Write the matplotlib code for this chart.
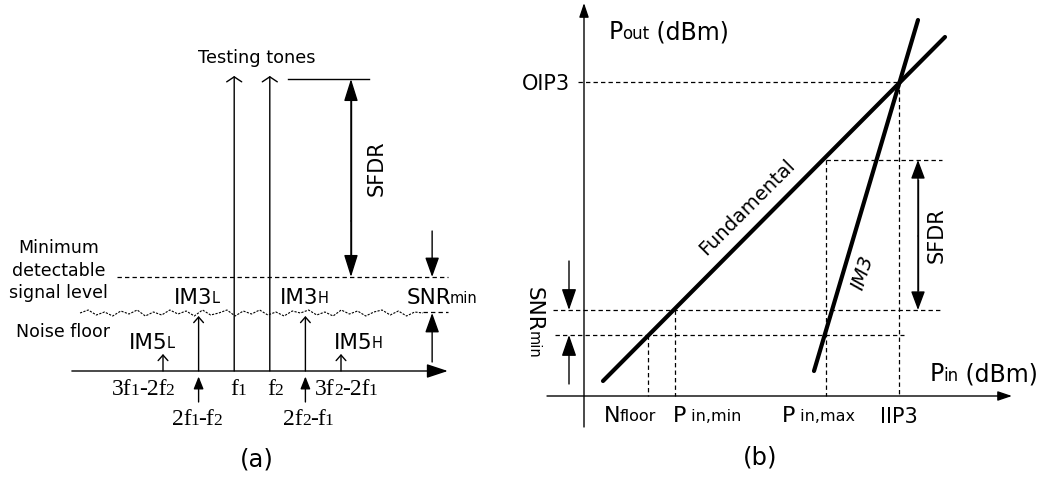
import matplotlib
matplotlib.use("Agg")
import matplotlib.pyplot as plt
import numpy as np

SANS = "DejaVu Sans"
SERIF = "Liberation Serif"

# ---- (a) spectrum: frequencies in units of tone spacing, levels in dB above axis
im_freqs = [0, 1, 4, 5]            # 3f1-2f2, 2f1-f2, 2f2-f1, 3f2-2f1
im_levels = [1.7, 5.5, 5.5, 1.7]
tone_freqs = [2, 3]                # f1, f2
tone_level = 29.5
sfdr_top = 29.2
min_detect = 9.4
noise_floor = 5.8
# ripple of the noise floor trace
noise_ripple = [0.0, 0.3, -0.2, 0.1, -0.3, 0.2, -0.1, 0.3, -0.3, 0.1,
                -0.2, 0.3, -0.1, 0.2, -0.3, 0.3, -0.2, 0.0, 0.3, -0.3,
                0.2, -0.1, 0.3, -0.2, 0.1, -0.3, 0.2, 0.0, 0.3, -0.2,
                0.1, -0.3, 0.3, -0.1, 0.2, -0.3, 0.1, 0.3, -0.2, 0.2,
                -0.3, 0.1, 0.0]

# ---- (b) power sweep, dBm (relative)
pin_marks = [6.4, 9.1, 24.2, 31.5]     # Nfloor, Pin,min, Pin,max, IIP3
oip3 = 31.4
snr_hi, snr_lo = 8.6, 6.1
sfdr_level = 23.6
fund_pin = [1.9, 36.1]
fund_pout = [1.5, 35.9]
im3_pin = [23.0, 33.4]
im3_pout = [2.5, 37.6]

fig = plt.figure(figsize=(10.47, 4.85), dpi=100)
axL = fig.add_axes([0, 0, 1, 1])
axL.set_xlim(-163 / 35.6, (1047 - 163) / 35.6)
axL.set_ylim(-(485 - 372) / 10, 372 / 10)
axR = fig.add_axes([0, 0, 1, 1])
axR.set_xlim(-58.4, 46.3)
axR.set_ylim(-8.8, 39.7)
for ax in (axL, axR):
    ax.axis("off")
    ax.patch.set_visible(False)


def arrow(ax, x0, y0, x1, y1, style="-|>", hl=1.2, hw=0.4, lw=1.0):
    ax.annotate("", xy=(x1, y1), xytext=(x0, y0),
                arrowprops=dict(arrowstyle=f"{style},head_length={hl},head_width={hw}",
                                mutation_scale=10, lw=lw, color="k",
                                shrinkA=0, shrinkB=0))


def rich(ax, x, y, parts, family=SANS, rot=0, desc=0.22, gap=-0.6):
    # text run with small letters sitting on the baseline
    s0, f0 = parts[0]
    prev = ax.text(x, y, s0, fontsize=f0, family=family, ha="left", va="baseline",
                   rotation=rot, rotation_mode="anchor")
    for s, f in parts[1:]:
        if rot == 0:
            xy, off = (1, 0), (gap, desc * f0)
        else:
            xy, off = (0, 0), (desc * f0, -gap)
        prev = ax.annotate(s, xy=xy, xycoords=prev, xytext=off, textcoords="offset points",
                           fontsize=f, family=family, ha="left", va="baseline",
                           rotation=rot, rotation_mode="anchor")
        f0 = f
    return prev


dash = dict(color="k", lw=0.9, linestyle=(0, (3.5, 2.5)))

# ================= (a) =================
arrow(axL, -2.56, 0, 8.0, 0, hl=1.3, hw=0.43)
for f in tone_freqs:
    arrow(axL, f, 0, f, tone_level, style="->", hl=0.36, hw=0.54)
for f, lv in zip(im_freqs, im_levels):
    arrow(axL, f, 0, f, lv, style="->", hl=0.4, hw=0.35)
# small markers under the IM3 products
for f in (1, 4):
    arrow(axL, f, -3.1, f, -0.55, hl=0.75, hw=0.3)

axL.plot([3.51, 5.79], [sfdr_top, sfdr_top], color="k", lw=1.0)
arrow(axL, 5.28, 15, 5.28, sfdr_top, hl=1.37, hw=0.43)
arrow(axL, 5.28, 15, 5.28, min_detect, hl=1.37, hw=0.43)
axL.plot([5.28, 5.28], [sfdr_top - 2, min_detect + 2], color="k", lw=1.0)

axL.plot([-1.29, 8.0], [min_detect, min_detect], **dash)
nx = np.linspace(-2.33, 7.30, len(noise_ripple))
axL.plot(nx, noise_floor + np.array(noise_ripple), color="k", lw=0.8,
         linestyle=(0, (2, 1.2)))
axL.plot([7.30, 8.0], [noise_floor + 0.1, noise_floor + 0.1], **dash)

arrow(axL, 7.56, 14.0, 7.56, min_detect, hl=1.2, hw=0.43)
arrow(axL, 7.56, 0.9, 7.56, noise_floor, hl=1.2, hw=0.43)

axL.text(2.64, 31.4, "Testing tones", fontsize=12.8, family=SANS, ha="center", va="center")
axL.text(6.01, 20.4, "SFDR", fontsize=15, family=SANS, rotation=90, ha="center", va="center")
for s, yb in (("Minimum", 11.9), ("detectable", 9.6), ("signal level", 7.4)):
    axL.text(-2.94, yb, s, fontsize=12.5, family=SANS, ha="center", va="baseline")
axL.text(-2.81, 3.5, "Noise floor", fontsize=12.5, family=SANS, ha="center", va="baseline")

rich(axL, 0.31, 6.8, [("IM3", 15.5), ("L", 10.5)])
rich(axL, 3.29, 6.8, [("IM3", 15.5), ("H", 10.5)])
rich(axL, 6.83, 6.8, [("SNR", 15.5), ("min", 10.5)])
rich(axL, -0.955, 2.3, [("IM5", 15.5), ("L", 10.5)])
rich(axL, 4.80, 2.3, [("IM5", 15.5), ("H", 10.5)])

rich(axL, -1.43, -2.3, [("3f", 17), ("1", 12.5), ("-2f", 17), ("2", 12.5)], family=SERIF)
rich(axL, 1.88, -2.3, [("f", 17), ("1", 12.5)], family=SERIF)
rich(axL, 2.92, -2.3, [("f", 17), ("2", 12.5)], family=SERIF)
rich(axL, 4.27, -2.3, [("3f", 17), ("2", 12.5), ("-2f", 17), ("1", 12.5)], family=SERIF)
rich(axL, 0.25, -5.3, [("2f", 17), ("1", 12.5), ("-f", 17), ("2", 12.5)], family=SERIF)
rich(axL, 3.37, -5.3, [("2f", 17), ("2", 12.5), ("-f", 17), ("1", 12.5)], family=SERIF)

axL.text(2.64, -8.8, "(a)", fontsize=17.5, family=SANS, ha="center", va="center")

# ================= (b) =================
arrow(axR, 0, -3.1, 0, 39.3, hl=0.86, hw=0.29)
arrow(axR, -3.7, 0, 42.8, 0, hl=0.86, hw=0.29)

axR.plot(fund_pin, fund_pout, color="k", lw=3.0, solid_capstyle="round")
axR.plot(im3_pin, im3_pout, color="k", lw=3.0, solid_capstyle="round")

nfl, pmin, pmax, iip3 = pin_marks
axR.plot([-0.6, iip3], [oip3, oip3], **dash)
axR.plot([iip3, iip3], [oip3, 0], **dash)
axR.plot([pmax, 35.8], [sfdr_level, sfdr_level], **dash)
axR.plot([pmax, pmax], [sfdr_level, 0], **dash)
axR.plot([-3.1, 35.7], [snr_hi, snr_hi], **dash)
axR.plot([-2.9, 32.0], [snr_lo, snr_lo], **dash)
axR.plot([pmin, pmin], [snr_hi, 0], **dash)
axR.plot([nfl, nfl], [snr_lo, 0], **dash)

arrow(axR, -1.5, 13.5, -1.5, snr_hi, hl=1.3, hw=0.45)
arrow(axR, -1.5, 1.2, -1.5, snr_lo, hl=1.3, hw=0.45)
arrow(axR, 33.4, 16, 33.4, sfdr_level, hl=1.15, hw=0.43)
arrow(axR, 33.4, 16, 33.4, snr_hi, hl=1.15, hw=0.43)
axR.plot([33.4, 33.4], [sfdr_level - 2, snr_hi + 2], color="k", lw=1.0)

rich(axR, 2.5, 35.8, [("P", 17), ("out", 12), (" (dBm)", 17)])
rich(axR, 34.6, 1.6, [("P", 17), ("in", 12), (" (dBm)", 17)])
axR.text(-1.4, 30.7, "OIP3", fontsize=15, family=SANS, ha="right", va="baseline")
axR.text(iip3, -2.6, "IIP3", fontsize=15, family=SANS, ha="center", va="baseline")
rich(axR, 2.0, -2.5, [("N", 16), ("floor", 11.5)])
rich(axR, 8.9, -2.5, [("P", 16), (" in,min", 11.5)])
rich(axR, 19.8, -2.5, [("P", 16), (" in,max", 11.5)])
rich(axR, -5.6, 11.0, [("SNR", 15.5), ("min", 10.5)], rot=-90)
axR.text(35.3, 16.2, "SFDR", fontsize=15, family=SANS, rotation=90, ha="center", va="center")
axR.text(16.3, 19.0, "Fundamental", fontsize=14, family=SANS, rotation=45,
         rotation_mode="anchor", ha="center", va="center")
axR.text(27.9, 12.4, "IM3", fontsize=14, family=SANS, style="italic", rotation=72,
         rotation_mode="anchor", ha="center", va="center")
axR.text(17.6, -6.1, "(b)", fontsize=17.5, family=SANS, ha="center", va="center")

fig.savefig("out.png", dpi=100, facecolor="white")
